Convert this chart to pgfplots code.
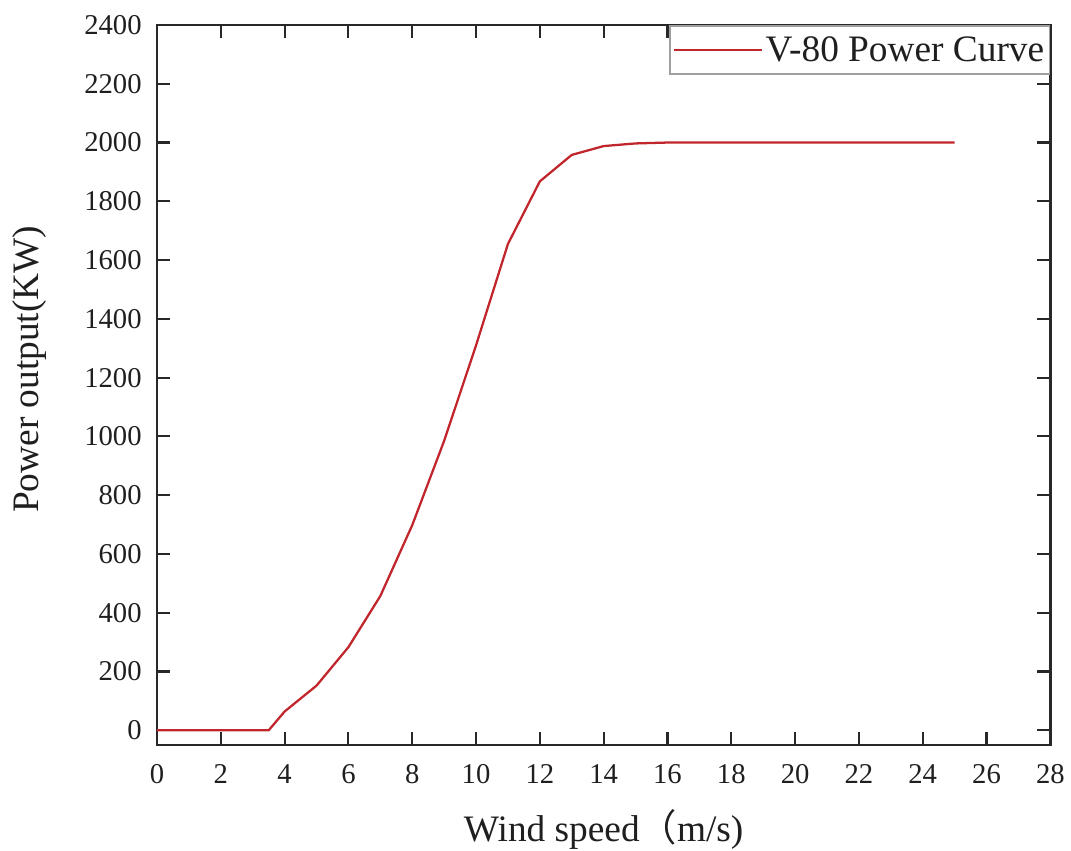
\documentclass[border=0pt]{standalone}
\usepackage{pgfplots}
\pgfplotsset{compat=1.18}
\usepackage{fontspec}
\setmainfont{Liberation Serif}
\newfontfamily\cjk{Noto Sans CJK SC}
\definecolor{curvered}{RGB}{192,38,44}
\definecolor{frame}{RGB}{40,40,40}
\begin{document}
\begin{tikzpicture}
\begin{axis}[
  scale only axis,
  at={(0,0)}, anchor=south west,
  width=670pt, height=540pt,
  xmin=0, xmax=28, ymin=-50, ymax=2400,
  xtick={0,2,...,28}, ytick={0,200,...,2400},
  tick align=inside,
  major tick length=10pt,
  tick style={frame, line width=1.6pt},
  axis line style={frame, line width=2.1pt},
  /pgf/number format/assume math mode=true,
  /pgf/number format/1000 sep={},
  ticklabel style={font=\fontsize{21.5}{25}\selectfont, text=black!88},
  yticklabel style={xshift=-8pt},
  xticklabel style={yshift=-11pt},
  xlabel={Wind speed{\cjk （}m/s)},
  ylabel={Power output(KW)},
  every axis x label/.style={at={(axis description cs:0.5,-0.118)}, anchor=center,
    font=\fontsize{28}{32}\selectfont, text=black!88},
  every axis y label/.style={at={(axis description cs:-0.143,0.522)}, anchor=center, rotate=90,
    font=\fontsize{28}{32}\selectfont, text=black!88},
  legend style={at={(rel axis cs:1,1)}, anchor=north east, draw=gray!75, line width=1.2pt,
    font=\fontsize{28}{32}\selectfont, text=black!88, inner xsep=2pt, inner ysep=6pt},
  legend cell align=left,
  legend image code/.code={\draw[#1] (-4pt,0pt) -- (62pt,0pt);},
]
\addplot[color=curvered, line width=1.7pt] coordinates {
(0,0) (1,0) (2,0) (3,0) (3.5,0) (4,64) (5,152) (6,283) (7,457) (8,698) (9,985) (10,1310) (11,1655) (12,1868) (13,1958) (14,1988) (15,1997) (16,2000) (17,2000) (18,2000) (19,2000) (20,2000) (21,2000) (22,2000) (23,2000) (24,2000) (25,2000)
};
\addlegendentry{V-80 Power Curve}
\end{axis}
\pgfresetboundingbox
\path[use as bounding box] (-117.75pt,-78.75pt) rectangle (685.5pt,558.75pt);
\end{tikzpicture}
\end{document}
